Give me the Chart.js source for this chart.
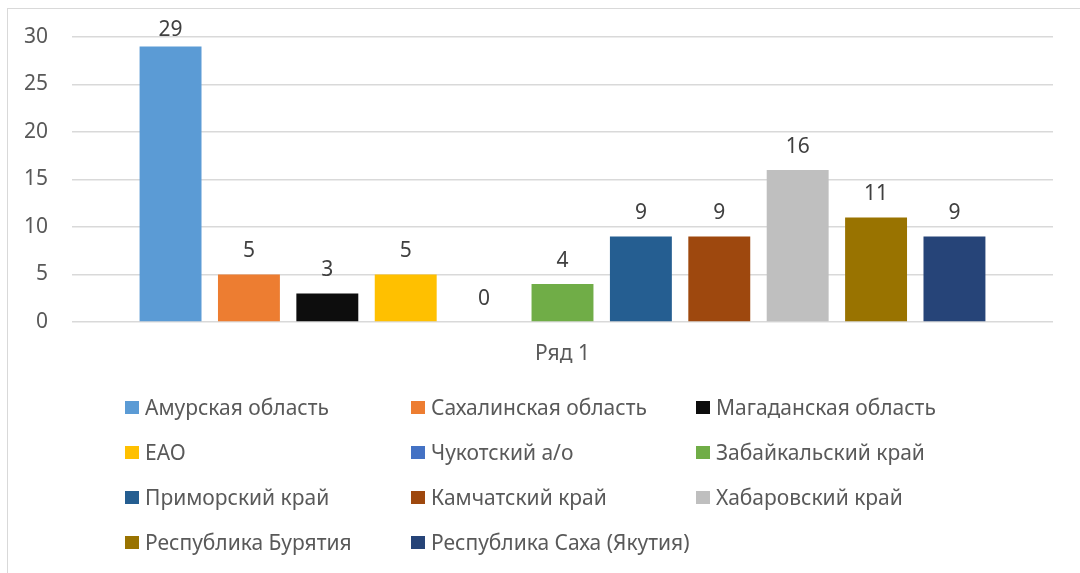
<!DOCTYPE html>
<html>
<head>
<meta charset="utf-8">
<script src="https://cdn.jsdelivr.net/npm/chart.js@4.4.1/dist/chart.umd.min.js"></script>
<style>
  html, body { margin: 0; padding: 0; background: #fff; }
  #wrap { position: relative; width: 1080px; height: 573px; overflow: hidden; font-family: "Noto Sans", sans-serif; }
  #frame { position: absolute; left: 7px; top: 8px; width: 1200px; height: 700px; border: 1px solid #d9d9d9; box-sizing: border-box; }
  #c { position: absolute; left: 0; top: 0; }
  .lg { position: absolute; display: flex; align-items: center; height: 26px; color: #595959; font-size: 21px; white-space: nowrap; }
  .lg i { display: inline-block; width: 14px; height: 13px; margin-right: 6px; }
</style>
</head>
<body>
<div id="wrap">
  <div id="frame"></div>
  <canvas id="c" width="1080" height="573"></canvas>
  <div id="legend"></div>
</div>
<script>
const categories = ["Ряд 1"];
const regions = ["Амурская область", "Сахалинская область", "Магаданская область", "ЕАО", "Чукотский а/о", "Забайкальский край", "Приморский край", "Камчатский край", "Хабаровский край", "Республика Бурятия", "Республика Саха (Якутия)"];
const values = [29, 5, 3, 5, 0, 4, 9, 9, 16, 11, 9];
const colors = ["#5B9BD5", "#ED7D31", "#0D0D0D", "#FFC000", "#4472C4", "#70AD47", "#255E91", "#9E480E", "#BFBFBF", "#997300", "#264478"];
const yTicks = [0, 5, 10, 15, 20, 25, 30];

const labelPlugin = {
  id: 'barLabels',
  afterDatasetsDraw(chart) {
    const ctx = chart.ctx;
    ctx.save();
    ctx.font = '21px "Noto Sans"';
    ctx.fillStyle = '#404040';
    ctx.textAlign = 'center';
    ctx.textBaseline = 'middle';
    chart.data.datasets.forEach((ds, i) => {
      const meta = chart.getDatasetMeta(i);
      meta.data.forEach((bar, j) => {
        const y = Math.max(bar.y - 23, chart.chartArea.top - 7);
        ctx.fillText(String(ds.data[j]), bar.x, y);
      });
    });
    ctx.restore();
  }
};

const chart = new Chart(document.getElementById('c'), {
  type: 'bar',
  data: {
    labels: categories,
    datasets: regions.map((r, i) => ({
      label: r,
      data: [values[i]],
      backgroundColor: colors[i],
      borderWidth: 0,
      categoryPercentage: 0.879,
      barPercentage: 0.79
    }))
  },
  options: {
    responsive: false,
    animation: false,
    layout: { padding: { top: 37, right: 27, left: 0, bottom: 0 } },
    plugins: { legend: { display: false }, tooltip: { enabled: false } },
    scales: {
      x: {
        grid: { display: false, drawTicks: false },
        border: { display: false },
        ticks: { color: '#595959', font: { family: 'Noto Sans', size: 21 }, padding: 19 },
        afterFit(s) { s.height = 251; }
      },
      y: {
        min: 0, max: 30,
        afterBuildTicks(s) { s.ticks = yTicks.map(v => ({ value: v })); },
        grid: { color: '#d9d9d9', lineWidth: 1.5, drawTicks: false },
        border: { display: false },
        ticks: { color: '#595959', font: { family: 'Noto Sans', size: 21 }, padding: 24 },
        afterFit(s) { s.width = 72; }
      }
    }
  },
  plugins: [labelPlugin]
});

// HTML legend built from the chart's datasets, 3 columns
const colX = [125, 411, 696];
const rowY = [407, 452, 497, 542];
const lg = document.getElementById('legend');
chart.data.datasets.forEach((ds, i) => {
  const d = document.createElement('div');
  d.className = 'lg';
  d.style.left = colX[i % 3] + 'px';
  d.style.top = (rowY[Math.floor(i / 3)] - 13) + 'px';
  const m = document.createElement('i');
  m.style.background = ds.backgroundColor;
  d.appendChild(m);
  d.appendChild(document.createTextNode(ds.label));
  lg.appendChild(d);
});
</script>
</body>
</html>
